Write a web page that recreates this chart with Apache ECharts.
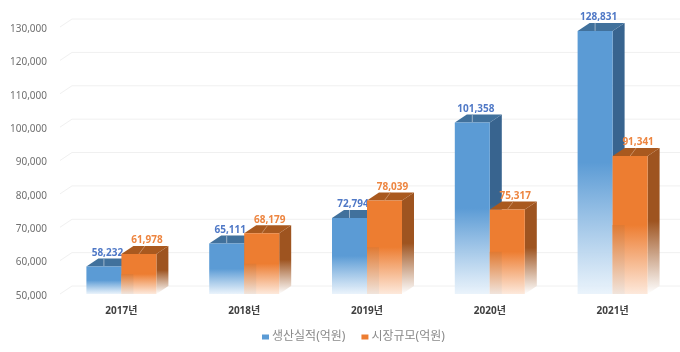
<!DOCTYPE html>
<html>
<head>
<meta charset="utf-8">
<style>
  html, body { margin: 0; padding: 0; background: #fff; }
  #chart { width: 680px; height: 352px; filter: blur(0.5px); }
</style>
<script src="https://cdn.jsdelivr.net/npm/echarts@6/dist/echarts.min.js"></script>
</head>
<body>
<div id="chart"></div>
<script>
const years = ['2017년', '2018년', '2019년', '2020년', '2021년'];
const production = [58232, 65111, 72794, 101358, 128831];
const market = [61978, 68179, 78039, 75317, 91341];
const gridTicks = [50000, 60000, 70000, 80000, 90000, 100000, 110000, 120000, 130000];

var myChart = echarts.init(document.getElementById('chart'));

const font = '"Noto Sans", "Noto Sans CJK KR", sans-serif';
const barWidth = 35;
const depthX = 12;
const depthY = 8;

function fade(color, end, start) {
    return {
        type: 'linear', x: 0, y: 0, x2: 0, y2: 1,
        colorStops: [
            { offset: 0, color: color },
            { offset: start, color: color },
            { offset: 1, color: end }
        ]
    };
}

// one fake 3D bar: front, top and side faces
function barRenderer(look) {
    return function (params, api) {
        const p = api.coord([api.value(0), api.value(1)]);
        const base = api.coord([api.value(0), 50000])[1];
        const x = p[0] + (look.left ? -barWidth : 0);
        const y = p[1];
        const h = base - y;
        const children = [
            {
                type: 'polygon',
                shape: { points: [[x + barWidth, y], [x + barWidth + depthX, y - depthY], [x + barWidth + depthX, base - depthY], [x + barWidth, base]] },
                style: { fill: fade(look.side, 'rgba(255,255,255,0.95)', 0.5) }
            },
            {
                type: 'polygon',
                shape: { points: [[x, y], [x + depthX, y - depthY], [x + barWidth + depthX, y - depthY], [x + barWidth, y]] },
                style: { fill: look.top }
            },
            {
                type: 'line',
                shape: { x1: x + barWidth / 2, y1: y, x2: x + barWidth / 2 + look.lineDx, y2: y - depthY },
                style: { stroke: look.topLine, lineWidth: 1 }
            },
            {
                type: 'rect',
                shape: { x: x, y: y, width: barWidth, height: h },
                style: { fill: fade(look.front, look.bottom, 0.5) }
            }
        ];
        if (look.strip) {
            // shadow of the neighbouring bar seen through the fade
            children.push({
                type: 'rect',
                shape: { x: x, y: y + h * 0.5, width: depthX, height: h * 0.5 },
                style: { fill: fade(look.strip, 'rgba(240,228,220,0.9)', 0) }
            });
        }
        children.push({
            type: 'text',
            style: {
                x: x + barWidth / 2 + look.labelDx,
                y: y - 13.5,
                text: api.value(1).toLocaleString('en-US'),
                fill: look.label,
                font: 'bold 10px ' + font,
                align: 'center',
                verticalAlign: 'middle'
            },
            z2: 50
        });
        return { type: 'group', children: children };
    };
}

// grid lines sit on the back wall, with a short diagonal on the floor side
function wallRenderer(params, api) {
    const y = api.coord([0, api.value(0)])[1];
    const sys = params.coordSys;
    return {
        type: 'polyline',
        shape: { points: [[sys.x, y], [sys.x + depthX, y - depthY], [sys.x + sys.width + 6, y - depthY]] },
        style: { fill: 'none', stroke: '#f0f0f0', lineWidth: 1 },
        silent: true
    };
}

var option = {
    animation: false,
    backgroundColor: '#fff',
    grid: { left: 60, right: 6, top: 27, bottom: 58 },
    legend: {
        data: ['생산실적(억원)', '시장규모(억원)'],
        left: 257,
        top: 326,
        icon: 'rect',
        itemWidth: 7,
        itemHeight: 5,
        itemGap: 16,
        textStyle: { color: '#8a8a8a', fontSize: 12, fontFamily: font, padding: [0, 0, 0, -2] }
    },
    xAxis: {
        type: 'category',
        data: years,
        axisLine: { show: false },
        axisTick: { show: false },
        axisLabel: { color: '#404040', fontSize: 10, fontWeight: 'bold', fontFamily: font, margin: 12 }
    },
    yAxis: {
        type: 'value',
        min: 50000,
        max: 130000,
        interval: 10000,
        axisLine: { show: false },
        axisTick: { show: false },
        splitLine: { show: false },
        axisLabel: {
            color: '#707070',
            fontSize: 10,
            fontFamily: font,
            margin: 13,
            verticalAlign: 'top',
            lineHeight: 10,
            padding: [-3, 0, 0, 0],
            formatter: v => v.toLocaleString('en-US')
        }
    },
    series: [
        {
            type: 'custom',
            name: 'wall',
            data: gridTicks.map(v => [v]),
            renderItem: wallRenderer,
            encode: { y: 0 },
            silent: true,
            z: 1
        },
        {
            type: 'custom',
            name: '생산실적(억원)',
            data: production.map((v, i) => [i, v]),
            encode: { x: 0, y: 1 },
            itemStyle: { color: '#5B9BD5' },
            renderItem: barRenderer({
                left: true, front: '#5B9BD5', top: '#41719C', side: '#38648F', bottom: 'rgba(232,242,251,0.9)',
                topLine: '#9DB4CA', lineDx: 0, label: '#4F78C6', labelDx: 3.5
            }),
            z: 2
        },
        {
            type: 'custom',
            name: '시장규모(억원)',
            data: market.map((v, i) => [i, v]),
            encode: { x: 0, y: 1 },
            itemStyle: { color: '#ED7D31' },
            renderItem: barRenderer({
                left: false, front: '#ED7D31', top: '#A9591F', side: '#9E5420', bottom: 'rgba(253,232,218,0.95)',
                topLine: '#C98D62', lineDx: 6, label: '#ED8540', labelDx: 8, strip: '#E07A33'
            }),
            z: 3
        }
    ]
};
myChart.setOption(option);
</script>
</body>
</html>
